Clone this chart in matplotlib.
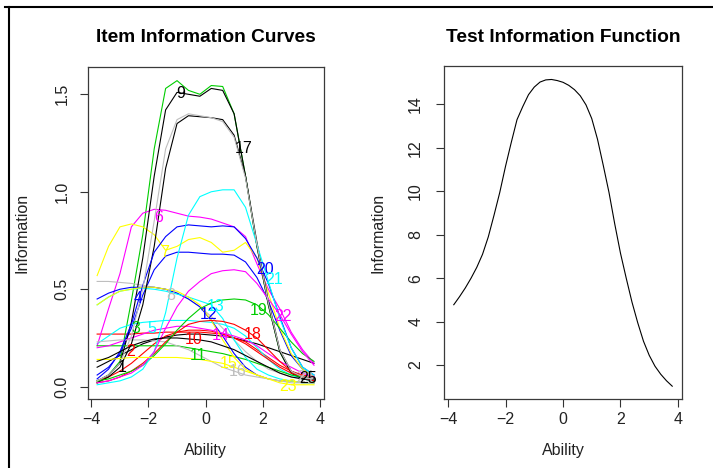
import matplotlib
matplotlib.use("Agg")
import matplotlib.pyplot as plt
from matplotlib.lines import Line2D

# ---- data -----------------------------------------------------------------
theta = [-3.8, -3.4, -3.0, -2.6, -2.2, -1.8, -1.4, -1.0, -0.6, -0.2,
         0.2, 0.6, 1.0, 1.4, 1.8, 2.2, 2.6, 3.0, 3.4, 3.8]

item_1 = [0.10, 0.13, 0.16, 0.19, 0.22, 0.24, 0.255, 0.265, 0.27, 0.27,
          0.265, 0.26, 0.25, 0.235, 0.22, 0.20, 0.18, 0.16, 0.14, 0.12]
item_2 = [0.27, 0.27, 0.27, 0.27, 0.275, 0.275, 0.28, 0.28, 0.28, 0.28,
          0.275, 0.27, 0.25, 0.23, 0.19, 0.15, 0.11, 0.08, 0.06, 0.05]
item_3 = [0.02, 0.06, 0.13, 0.44, 0.78, 1.22, 1.53, 1.57, 1.52, 1.50,
          1.545, 1.54, 1.40, 1.08, 0.72, 0.42, 0.18, 0.07, 0.04, 0.03]
item_4 = [0.06, 0.10, 0.17, 0.30, 0.47, 0.60, 0.67, 0.69, 0.69, 0.685,
          0.68, 0.68, 0.675, 0.64, 0.56, 0.44, 0.29, 0.16, 0.09, 0.05]
item_5 = [0.22, 0.26, 0.30, 0.32, 0.33, 0.335, 0.34, 0.34, 0.34, 0.335,
          0.33, 0.32, 0.30, 0.26, 0.20, 0.14, 0.09, 0.06, 0.04, 0.03]
item_6 = [0.21, 0.40, 0.58, 0.82, 0.89, 0.91, 0.905, 0.89, 0.875, 0.87,
          0.86, 0.84, 0.82, 0.77, 0.63, 0.50, 0.40, 0.28, 0.19, 0.12]
item_7 = [0.57, 0.72, 0.82, 0.835, 0.82, 0.78, 0.70, 0.72, 0.755, 0.765,
          0.74, 0.69, 0.70, 0.74, 0.66, 0.48, 0.30, 0.17, 0.09, 0.05]
item_8 = [0.54, 0.54, 0.535, 0.53, 0.52, 0.51, 0.50, 0.48, 0.45, 0.41,
          0.36, 0.30, 0.24, 0.18, 0.13, 0.09, 0.07, 0.05, 0.04, 0.03]
item_9 = [0.03, 0.06, 0.12, 0.33, 0.66, 1.08, 1.42, 1.51, 1.50, 1.49,
          1.53, 1.52, 1.40, 1.08, 0.72, 0.42, 0.18, 0.07, 0.04, 0.03]
item_10 = [0.03, 0.05, 0.08, 0.12, 0.17, 0.22, 0.26, 0.28, 0.29, 0.29,
           0.285, 0.27, 0.25, 0.22, 0.18, 0.14, 0.10, 0.07, 0.05, 0.04]
item_11 = [0.21, 0.21, 0.21, 0.21, 0.21, 0.21, 0.21, 0.21, 0.20, 0.19,
           0.18, 0.17, 0.155, 0.14, 0.12, 0.10, 0.08, 0.06, 0.05, 0.04]
item_12 = [0.45, 0.48, 0.50, 0.51, 0.51, 0.51, 0.50, 0.48, 0.45, 0.41,
           0.34, 0.26, 0.17, 0.10, 0.06, 0.04, 0.03, 0.03, 0.02, 0.02]
item_13 = [0.42, 0.46, 0.49, 0.50, 0.505, 0.50, 0.49, 0.475, 0.46, 0.44,
           0.42, 0.35, 0.24, 0.15, 0.09, 0.06, 0.04, 0.03, 0.02, 0.02]
item_14 = [0.20, 0.21, 0.23, 0.25, 0.27, 0.29, 0.30, 0.31, 0.31, 0.30,
           0.29, 0.275, 0.26, 0.24, 0.21, 0.17, 0.13, 0.10, 0.07, 0.05]
item_15 = [0.42, 0.46, 0.49, 0.50, 0.51, 0.51, 0.50, 0.49, 0.46, 0.42,
           0.34, 0.24, 0.15, 0.09, 0.06, 0.04, 0.03, 0.03, 0.02, 0.02]
item_16 = [0.23, 0.235, 0.24, 0.24, 0.24, 0.235, 0.23, 0.21, 0.19, 0.16,
           0.13, 0.10, 0.08, 0.06, 0.05, 0.04, 0.03, 0.02, 0.02, 0.02]
item_17 = [0.02, 0.05, 0.10, 0.22, 0.42, 0.72, 1.12, 1.35, 1.39, 1.385,
           1.38, 1.37, 1.29, 1.08, 0.74, 0.44, 0.19, 0.08, 0.05, 0.04]
item_18 = [0.02, 0.03, 0.05, 0.08, 0.12, 0.17, 0.23, 0.28, 0.32, 0.335,
           0.34, 0.335, 0.32, 0.29, 0.25, 0.19, 0.13, 0.08, 0.05, 0.03]
item_19 = [0.03, 0.04, 0.06, 0.08, 0.11, 0.16, 0.22, 0.29, 0.35, 0.40,
           0.43, 0.445, 0.45, 0.445, 0.42, 0.37, 0.30, 0.23, 0.17, 0.13]
item_20 = [0.04, 0.09, 0.18, 0.32, 0.52, 0.69, 0.77, 0.82, 0.83, 0.825,
           0.82, 0.825, 0.82, 0.76, 0.66, 0.53, 0.36, 0.20, 0.10, 0.06]
item_21 = [0.01, 0.02, 0.03, 0.05, 0.09, 0.18, 0.38, 0.66, 0.88, 0.975,
           1.00, 1.01, 1.01, 0.92, 0.73, 0.54, 0.35, 0.20, 0.10, 0.06]
item_22 = [0.02, 0.03, 0.05, 0.07, 0.11, 0.18, 0.30, 0.41, 0.49, 0.54,
           0.58, 0.595, 0.60, 0.59, 0.53, 0.45, 0.37, 0.27, 0.18, 0.11]
item_23 = [0.14, 0.14, 0.145, 0.15, 0.15, 0.15, 0.15, 0.15, 0.145, 0.14,
           0.13, 0.12, 0.10, 0.08, 0.06, 0.04, 0.02, 0.01, 0.01, 0.01]
item_24 = [0.03, 0.06, 0.12, 0.26, 0.50, 0.85, 1.22, 1.37, 1.40, 1.39,
           1.38, 1.36, 1.28, 1.07, 0.73, 0.43, 0.19, 0.08, 0.05, 0.04]
item_25 = [0.13, 0.15, 0.18, 0.21, 0.23, 0.245, 0.25, 0.25, 0.245, 0.24,
           0.23, 0.21, 0.19, 0.16, 0.13, 0.10, 0.07, 0.05, 0.04, 0.04]

items = [item_1, item_2, item_3, item_4, item_5, item_6, item_7, item_8,
         item_9, item_10, item_11, item_12, item_13, item_14, item_15,
         item_16, item_17, item_18, item_19, item_20, item_21, item_22,
         item_23, item_24, item_25]
item_names = [str(i) for i in range(1, 26)]

# where each item number is written on the left panel
label_x = [-2.92, -2.62, -2.45, -2.35, -1.9, -1.65, -1.42, -1.23, -0.88, -0.42,
           -0.25, 0.1, 0.35, 0.53, 0.8, 1.12, 1.35, 1.65, 1.86, 2.1,
           2.4, 2.7, 2.9, 3.5, 3.6]
label_y = [0.10, 0.18, 0.30, 0.45, 0.30, 0.87, 0.69, 0.47, 1.505, 0.24,
           0.16, 0.37, 0.41, 0.265, 0.12, 0.077, 1.22, 0.27, 0.39, 0.60,
           0.55, 0.36, 0.0, 0.045, 0.04]

# test information on a finer ability grid
tif_theta = [-3.8, -3.6, -3.4, -3.2, -3.0, -2.8, -2.6, -2.4, -2.2, -2.0,
             -1.8, -1.6, -1.4, -1.2, -1.0, -0.8, -0.6, -0.4, -0.2, 0.0,
             0.2, 0.4, 0.6, 0.8, 1.0, 1.2, 1.4, 1.6, 1.8, 2.0,
             2.2, 2.4, 2.6, 2.8, 3.0, 3.2, 3.4, 3.6, 3.8]
tif_info = [4.78, 5.15, 5.55, 6.0, 6.5, 7.1, 7.9, 8.9, 9.95, 11.15,
            12.25, 13.3, 13.9, 14.45, 14.8, 15.03, 15.13, 15.15, 15.1, 15.02,
            14.88, 14.68, 14.4, 13.98, 13.35, 12.4, 11.2, 9.95, 8.5, 7.15,
            6.0, 4.9, 3.95, 3.1, 2.45, 1.95, 1.58, 1.28, 1.03]

# classic R palette, recycled over the items
palette = ["black", "#FF0000", "#00CD00", "#0000FF",
           "#00FFFF", "#FF00FF", "#FFFF00", "#BEBEBE"]

# ---- figure ---------------------------------------------------------------
W, H = 713, 468
FS = 11.5
plt.rcParams["font.family"] = ["Liberation Sans", "DejaVu Sans"]
fig = plt.figure(figsize=(W / 100, H / 100), dpi=100)


def px_axes(x0, y0, x1, y1):
    return fig.add_axes([x0 / W, 1 - y1 / H, (x1 - x0) / W, (y1 - y0) / H])


def style_axes(ax, ypad):
    for s in ax.spines.values():
        s.set_color("#3a3a3a")
        s.set_linewidth(0.9)
    ax.tick_params(direction="out", length=6, width=0.8, color="#333333",
                   labelsize=FS, labelcolor="#222222")
    ax.tick_params(axis="x", pad=3)
    ax.tick_params(axis="y", pad=ypad)
    for lab in ax.get_yticklabels():
        lab.set_rotation(90)
        lab.set_va("center")


ax1 = px_axes(88, 67, 324, 399)
for k, vals in enumerate(items):
    ax1.plot(theta, vals, color=palette[k % 8], lw=0.8)
for k, name in enumerate(item_names):
    ax1.text(label_x[k], label_y[k], name, color=palette[k % 8],
             fontsize=FS, ha="center", va="center")
ax1.set_xlim(-4.12, 4.15)
ax1.set_ylim(-0.063, 1.64)
ax1.set_xticks([-4, -2, 0, 2, 4])
ax1.set_yticks([0.0, 0.5, 1.0, 1.5])
ax1.set_yticklabels(["0.0", "0.5", "1.0", "1.5"])
style_axes(ax1, 7.5)

ax2 = px_axes(444, 66, 682, 399)
ax2.plot(tif_theta, tif_info, color="black", lw=0.8)
ax2.set_xlim(-4.14, 4.14)
ax2.set_ylim(0.44, 15.77)
ax2.set_xticks([-4, -2, 0, 2, 4])
ax2.set_yticks([2, 4, 6, 8, 10, 12, 14])
style_axes(ax2, 9)

# titles and axis labels
fig.text(206 / W, 1 - 37 / H, "Item Information Curves", ha="center",
         va="center", fontsize=13.8, fontweight="bold")
fig.text(563 / W, 1 - 37 / H, "Test Information Function", ha="center",
         va="center", fontsize=13.8, fontweight="bold")
fig.text(205 / W, 1 - 451 / H, "Ability", ha="center", va="center",
         fontsize=FS, color="#222222")
fig.text(563 / W, 1 - 451 / H, "Ability", ha="center", va="center",
         fontsize=FS, color="#222222")
fig.text(22 / W, 1 - 233 / H, "Information", ha="center", va="center",
         rotation=90, fontsize=FS, color="#222222")
fig.text(378 / W, 1 - 233 / H, "Information", ha="center", va="center",
         rotation=90, fontsize=FS, color="#222222")

# window frame along the top and left edges
fig.add_artist(Line2D([5 / W, 1.0], [1 - 7 / H, 1 - 7 / H],
                      transform=fig.transFigure, color="black", lw=1.5))
fig.add_artist(Line2D([9 / W, 9 / W], [1 - 7 / H, 0.0],
                      transform=fig.transFigure, color="black", lw=1.5))

fig.savefig("out.png", dpi=100)
